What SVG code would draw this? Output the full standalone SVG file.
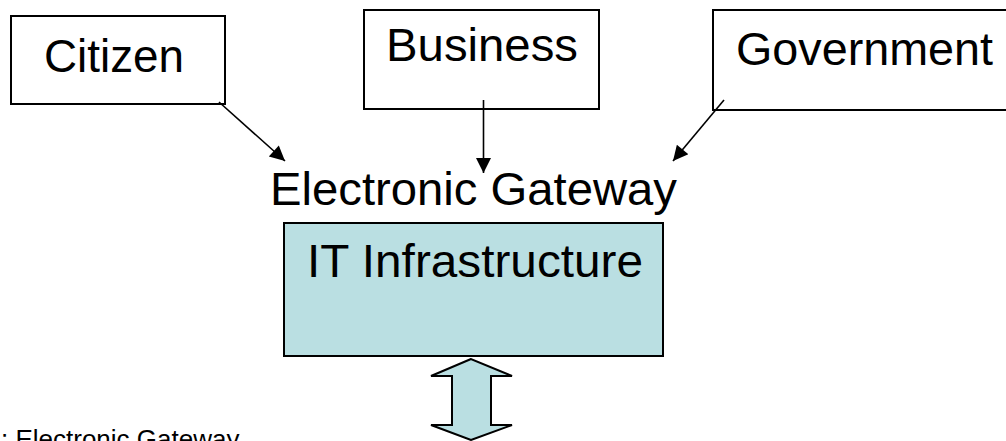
<svg xmlns="http://www.w3.org/2000/svg" width="1006" height="441" viewBox="0 0 1006 441">
<style>
.box{fill:#ffffff;stroke:#000;stroke-width:2}
.blue{fill:#BADFE2;stroke:#000;stroke-width:2}
.t{font-family:"Liberation Sans",Arial,sans-serif;font-size:46px;fill:#000}
.c{stroke:#000;stroke-width:1.6;fill:none;marker-end:url(#ah)}
</style>
<defs>
<marker id="ah" viewBox="0 0 10 10" refX="10" refY="5" markerWidth="17" markerHeight="15" markerUnits="userSpaceOnUse" orient="auto">
<path d="M0,0 L10,5 L0,10 Z" fill="#000"/>
</marker>
</defs>
<g id="citizen">
<rect class="box" x="11" y="16" width="214" height="88"/>
<text class="t" x="44" y="72" textLength="140" lengthAdjust="spacingAndGlyphs">Citizen</text>
</g>
<g id="business">
<rect class="box" x="364" y="10" width="235" height="99"/>
<text class="t" x="386" y="61" textLength="192" lengthAdjust="spacingAndGlyphs">Business</text>
</g>
<g id="government">
<rect class="box" x="713" y="10" width="300" height="100"/>
<text class="t" x="736" y="65" textLength="257" lengthAdjust="spacingAndGlyphs">Government</text>
</g>
<g id="gateway">
<text class="t" x="270" y="205" textLength="407" lengthAdjust="spacingAndGlyphs">Electronic Gateway</text>
</g>
<g id="it">
<rect class="blue" x="284" y="223" width="379" height="133"/>
<text class="t" x="307" y="277" textLength="336" lengthAdjust="spacingAndGlyphs">IT Infrastructure</text>
</g>
<g id="connectors">
<line class="c" x1="219" y1="102" x2="285" y2="161"/>
<line class="c" x1="483.5" y1="100" x2="483.5" y2="173"/>
<line class="c" x1="724" y1="100" x2="673" y2="161"/>
</g>
<g id="double-arrow">
<polygon class="blue" points="471,359 431,376 452,376 452,425 431,425 471,440 512,425 491,425 491,376 512,376"/>
</g>
<g id="caption">
<text x="1" y="448" style="font-family:'Liberation Sans',Arial,sans-serif;font-size:26px;fill:#000">: Electronic Gateway</text>
</g>
</svg>
